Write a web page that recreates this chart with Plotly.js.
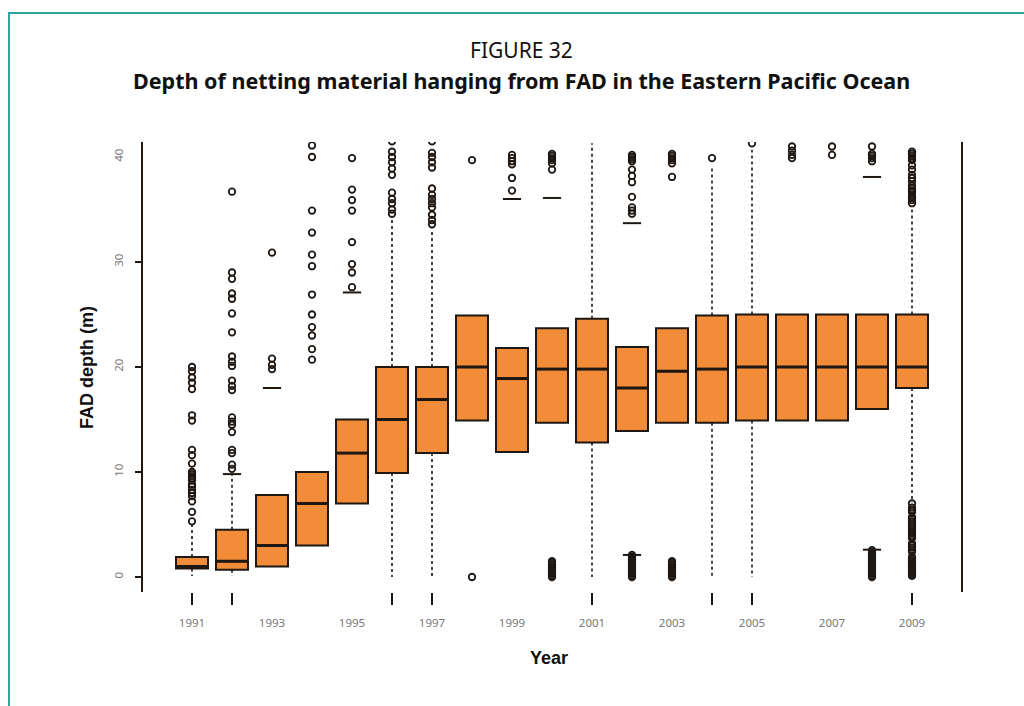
<!DOCTYPE html>
<html>
<head>
<meta charset="utf-8">
<script src="https://cdn.plot.ly/plotly-3.0.1.min.js"></script>
<style>
  html, body { margin: 0; padding: 0; background: #fff; }
  #wrap { position: relative; width: 1024px; height: 706px; overflow: hidden; }
  #frame { position: absolute; left: 8px; top: 12px; width: 1030px; height: 710px;
           border-left: 2px solid #2aa79b; border-top: 2px solid #2aa79b; box-sizing: border-box; }
  #chart { position: absolute; left: 0; top: 0; width: 1024px; height: 706px; }
</style>
</head>
<body>
<div id="wrap">
  <div id="chart"></div>
  <div id="frame"></div>
</div>
<script>
// ---- data ----
const years = [1991,1992,1993,1994,1995,1996,1997,1998,1999,2000,2001,2002,2003,2004,2005,2006,2007,2008,2009];
const labelYears = [1991,1993,1995,1997,1999,2001,2003,2005,2007,2009];
const tickYears = [1991,1992,1996,1997,2001,2004,2005,2009];
const q1     = [0.8, 0.7, 1.0, 3.0, 7.0, 9.9, 11.8, 14.9, 11.9, 14.7, 12.8, 13.9, 14.7, 14.7, 14.9, 14.9, 14.9, 16.0, 18.0];
const median = [1.0, 1.5, 3.0, 7.0, 11.8, 15.0, 16.9, 20.0, 18.9, 19.8, 19.8, 18.0, 19.6, 19.8, 20.0, 20.0, 20.0, 20.0, 20.0];
const q3     = [1.9, 4.5, 7.8, 10.0, 15.0, 20.0, 20.0, 24.9, 21.8, 23.7, 24.6, 21.9, 23.7, 24.9, 25.0, 25.0, 25.0, 25.0, 25.0];
const whiskHi = [5.0, 9.8, null, null, null, 34.2, 33.2, null, null, null, 41.3, null, null, 39.2, 40.7, null, null, null, 35.2];
const whiskLo = [0.1, 0.1, null, null, null, 0.0, 0.0, null, null, null, 0.0, null, null, 0.0, 0.0, null, null, null, 7.1];
const capHi   = [null, 9.8, 18.0, null, 27.1, null, null, null, 36.0, 36.1, null, 33.7, null, null, null, null, null, 38.1, null];
const capLo   = [null, null, null, null, null, null, null, null, null, null, null, 2.1, null, null, null, null, null, 2.6, null];
const outliers = [
  [20.0, 19.6, 19.0, 18.5, 17.9, 15.4, 14.9, 12.1, 11.6, 10.8, 10.0, 9.8, 9.6, 9.4, 9.2, 8.8, 8.6, 8.3, 8.0, 7.7, 7.2, 6.2, 5.3],
  [36.7, 29.0, 28.4, 27.0, 26.5, 25.1, 23.3, 21.0, 20.5, 20.1, 18.7, 18.2, 17.8, 15.2, 14.8, 14.5, 13.8, 12.1, 11.8, 10.7, 10.3],
  [30.9, 20.8, 20.2, 19.8],
  [41.1, 40.0, 34.9, 32.8, 30.7, 29.6, 26.9, 25.0, 23.8, 23.0, 21.7, 20.7],
  [39.9, 36.9, 35.9, 34.9, 31.9, 29.8, 29.0, 27.6],
  [41.5, 40.5, 40.0, 39.5, 38.9, 38.3, 36.6, 36.0, 35.6, 35.0, 34.6],
  [41.5, 40.4, 40.0, 39.5, 39.0, 37.0, 36.4, 36.0, 35.6, 35.2, 34.5, 34.0, 33.6],
  [39.7, 0.0],
  [40.2, 39.9, 39.6, 39.3, 38.0, 36.8],
  [40.3, 40.1, 39.9, 39.7, 39.4, 38.8, 0.0, 0.15, 0.3, 0.45, 0.6, 0.75, 0.9, 1.05, 1.2, 1.35, 1.5],
  [],
  [40.2, 40.0, 39.8, 39.6, 38.8, 38.2, 37.6, 36.2, 35.2, 34.9, 34.6,
   0.0, 0.15, 0.3, 0.45, 0.6, 0.75, 0.9, 1.05, 1.2, 1.35, 1.5, 1.65, 1.8, 1.95, 2.1],
  [40.3, 40.1, 39.9, 39.7, 39.4, 38.1, 0.0, 0.15, 0.3, 0.45, 0.6, 0.75, 0.9, 1.05, 1.2, 1.35, 1.5],
  [39.9],
  [41.3],
  [41.0, 40.6, 40.2, 39.9],
  [41.0, 40.2],
  [41.0, 40.3, 40.1, 39.9, 39.6, 0.0, 0.15, 0.3, 0.45, 0.6, 0.75, 0.9, 1.05, 1.2, 1.35, 1.5, 1.65, 1.8, 1.95, 2.1, 2.25, 2.4, 2.55],
  [40.5, 40.3, 40.1, 39.9, 39.7, 39.2, 38.8, 38.3, 38.0, 37.7, 37.3, 37.0, 36.8, 36.6, 36.3, 36.1, 35.9, 35.6,
   7.0, 6.6, 6.4, 6.2, 5.7, 5.5, 5.3, 5.1, 4.9, 4.7, 4.5, 4.3, 4.1, 3.9, 3.7,
   3.2, 3.0, 2.8, 2.6, 2.4, 1.9, 1.75, 1.6, 1.45, 1.3, 1.15, 1.0, 0.85, 0.7, 0.55, 0.4, 0.25, 0.1]
];
const yTickVals = [0, 10, 20, 30, 40];
const yTickMarks = [0, 10, 20, 30];

// ---- build traces ----
const ink = '#1e1712';
const traces = [];

// dashed whiskers
const wx = [], wy = [];
years.forEach((yr, i) => {
  if (whiskHi[i] !== null) { wx.push(yr, yr, null); wy.push(q3[i], whiskHi[i], null); }
  if (whiskLo[i] !== null) { wx.push(yr, yr, null); wy.push(q1[i], whiskLo[i], null); }
});
traces.push({type:'scatter', mode:'lines', x: wx, y: wy, connectgaps:false,
  line:{color: ink, width:1.6, dash:'3px,3px'}, hoverinfo:'skip'});

// boxes
traces.push({type:'box', x: years, q1: q1, median: median, q3: q3,
  lowerfence: q1, upperfence: q3, width: 0.8, whiskerwidth: 0, boxpoints: false,
  fillcolor: '#F28C38', line: {color: ink, width: 2}});

// thick medians
traces.push({type:'scatter', mode:'markers', x: years, y: median,
  marker:{symbol:'line-ew', size:22.5, line:{color: ink, width:3}}, hoverinfo:'skip'});

// staples / caps
const cx = [], cy = [];
years.forEach((yr, i) => {
  if (capHi[i] !== null) { cx.push(yr); cy.push(capHi[i]); }
  if (capLo[i] !== null) { cx.push(yr); cy.push(capLo[i]); }
});
traces.push({type:'scatter', mode:'markers', x: cx, y: cy,
  marker:{symbol:'line-ew', size:13, line:{color: ink, width:2}}, hoverinfo:'skip'});

// outliers
const ox = [], oy = [];
years.forEach((yr, i) => { outliers[i].forEach(v => { ox.push(yr); oy.push(v); }); });
traces.push({type:'scatter', mode:'markers', x: ox, y: oy,
  marker:{symbol:'circle-open', size:6.5, color: ink, line:{color: ink, width:1.8}}, hoverinfo:'skip'});

// ---- layout ----
const xRange = [1989.775, 2010.225];
const yRange = [-1.43, 41.43];
const font = '"Noto Sans", "Open Sans", "DejaVu Sans", sans-serif';
const axFont = '"Liberation Sans", Arial, sans-serif';

const layout = {
  width: 1024, height: 706,
  margin: {l:143, r:63, t:142, b:114},
  paper_bgcolor: 'rgba(0,0,0,0)', plot_bgcolor: '#fff',
  showlegend: false,
  font: {family: font, color: '#111'},
  xaxis: {range: xRange, showgrid:false, zeroline:false, showline:false,
    tickmode:'array', tickvals: labelYears, ticktext: labelYears.map(String),
    ticks:'', ticklabelstandoff: 22, tickfont:{size:11.5, color:'#777'}},
  xaxis2: {range: xRange, overlaying:'x', side:'bottom', showgrid:false, zeroline:false,
    showline:false, tickmode:'array', tickvals: tickYears, ticks:'outside', ticklen:12,
    tickwidth:2, tickcolor: ink, showticklabels:false},
  yaxis: {range: yRange, showgrid:false, zeroline:false, showline:true, mirror:true,
    linecolor: ink, linewidth:2, tickmode:'array', tickvals: yTickVals,
    ticktext: yTickVals.map(String), ticks:'', tickangle:-90, ticklabelstandoff: 13,
    tickfont:{size:11.5, color:'#777'}},
  yaxis2: {range: yRange, overlaying:'y', side:'left', showgrid:false, zeroline:false,
    showline:false, tickmode:'array', tickvals: yTickMarks, ticks:'outside', ticklen:7,
    tickwidth:2, tickcolor: ink, showticklabels:false},
  annotations: [
    {text:'FIGURE 32', xref:'paper', yref:'paper', x:0.4633, y:1.2044, showarrow:false,
      xanchor:'center', yanchor:'middle', font:{size:21, color:'#111', family: font}},
    {text:'<b>Depth of netting material hanging from FAD in the Eastern Pacific Ocean</b>',
      xref:'paper', yref:'paper', x:0.4633, y:1.1356, showarrow:false,
      xanchor:'center', yanchor:'middle', font:{size:21.5, color:'#111', family: font}},
    {text:'<b>Year</b>', xref:'paper', yref:'paper', x:0.4963, y:-0.1467, showarrow:false,
      xanchor:'center', yanchor:'middle', font:{size:18, color:'#111', family: axFont}},
    {text:'<b>FAD depth (m)</b>', xref:'paper', yref:'paper', x:-0.0685, y:0.5, textangle:-90,
      showarrow:false, xanchor:'center', yanchor:'middle', font:{size:18, color:'#111', family: axFont}}
  ]
};

// dummy trace to activate overlay axes
traces.push({type:'scatter', mode:'markers', x:[years[0]], y:[0], xaxis:'x2', yaxis:'y2',
  marker:{opacity:0}, hoverinfo:'skip'});

Plotly.newPlot('chart', traces, layout, {staticPlot:true, displayModeBar:false});
</script>
</body>
</html>
